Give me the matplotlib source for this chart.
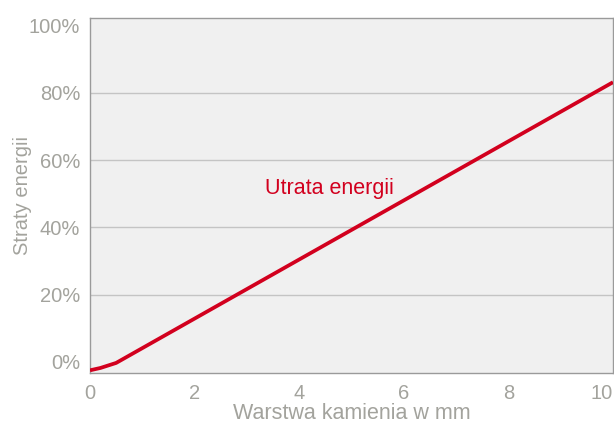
import numpy as np
import matplotlib.pyplot as plt

plt.rcParams['font.family'] = ['Liberation Sans', 'DejaVu Sans']

# dane
grubosc = [0.0, 0.2, 0.5, 10.0]
straty = [-2.5, -1.8, -0.3, 83.2]
y_ticks = [0, 20, 40, 60, 80, 100]
x_ticks = [0, 2, 4, 6, 8, 10]

szary = '#a3a39d'
czerwony = '#d2001e'

fig = plt.figure(figsize=(6.14, 4.23), dpi=100)
ax = fig.add_axes([90 / 614, 1 - 373 / 423, 523 / 614, 355 / 423])
ax.set_facecolor('#f0f0f0')

ax.plot(grubosc, straty, color=czerwony, lw=2.7, solid_capstyle='butt', zorder=3)
ax.text(4.57, 51.5, 'Utrata energii', color=czerwony, fontsize=15.5, ha='center', va='center')

# linie siatki tylko 20-80%
for v in y_ticks[1:-1]:
    ax.axhline(v, color='#c4c4c4', lw=1, zorder=1)

ax.set_xlim(0, 10)
ax.set_ylim(-3.3, 102.3)
ax.set_xticks(x_ticks)
ax.set_yticks(y_ticks)
ax.set_yticklabels([f'{v}%' for v in y_ticks])
ax.tick_params(length=0, colors=szary, labelsize=14.5)
ax.tick_params(axis='x', pad=8)
ax.tick_params(axis='y', pad=7)
for lbl in ax.get_xticklabels():
    if lbl.get_text() == '10':
        lbl.set_horizontalalignment('right')
for s in ax.spines.values():
    s.set_color('#9a9a9a')
    s.set_linewidth(1)

ax.set_xlabel('Warstwa kamienia w mm', color=szary, fontsize=15.5, va='center')
ax.set_ylabel('Straty energii', color=szary, fontsize=14.5, va='center')
ax.xaxis.set_label_coords(0.5, -0.113)
ax.yaxis.set_label_coords(-0.13, 0.5)

fig.savefig('out.png', dpi=100)
